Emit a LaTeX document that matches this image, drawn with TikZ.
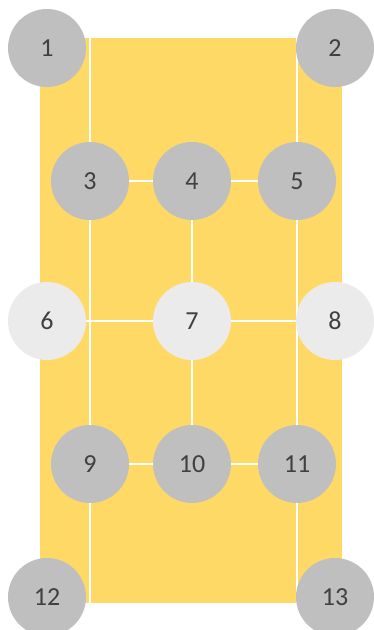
\documentclass[tikz,border=0pt]{standalone}
\usepackage{fontspec}
\setmainfont{Carlito}
\definecolor{court}{HTML}{FFD966}
\definecolor{spot}{HTML}{BFBFBF}
\definecolor{spotlight}{HTML}{EBEBEB}
\definecolor{digit}{HTML}{404040}
\pgfdeclarelayer{floor}
\pgfdeclarelayer{lines}
\pgfsetlayers{floor,lines,main}
\begin{document}
\begin{tikzpicture}[x=1pt, y=-1pt,
  every node/.style={font=\fontsize{26}{30}\selectfont, text=digit},
  spotnode/.style={circle, fill=spot, minimum size=78pt, inner sep=0pt},
  palenode/.style={spotnode, fill=spotlight},
  courtline/.style={white, line width=2.8pt}]
  \useasboundingbox (0,0) rectangle (373,630);

  \coordinate (tl) at (90,38);
  \coordinate (tr) at (297,38);
  \coordinate (bl) at (90,603);
  \coordinate (br) at (297,603);

  \node[spotnode] (n1) at (47,48) {1};
  \node[spotnode] (n2) at (335,48) {2};
  \node[spotnode] (n3) at (90,181) {3};
  \node[spotnode] (n4) at (192,181) {4};
  \node[spotnode] (n5) at (297,181) {5};
  \node[palenode] (n6) at (47,321) {6};
  \node[palenode] (n7) at (192,321) {7};
  \node[palenode] (n8) at (335,321) {8};
  \node[spotnode] (n9) at (90,464) {9};
  \node[spotnode] (n10) at (192,464) {10};
  \node[spotnode] (n11) at (297,464) {11};
  \node[spotnode] (n12) at (47,597) {12};
  \node[spotnode] (n13) at (335,597) {13};

  \begin{pgfonlayer}{floor}
    \fill[court] (40,38) rectangle (342,603);
  \end{pgfonlayer}

  \begin{pgfonlayer}{lines}
    \draw[courtline] (tl) -- (n3);
    \draw[courtline] (tr) -- (n5);
    \draw[courtline] (n3) -- (n4) -- (n5);
    \draw[courtline] (n3) -- (n9);
    \draw[courtline] (n5) -- (n11);
    \draw[courtline] (n6) -- (n7) -- (n8);
    \draw[courtline] (n4) -- (n7) -- (n10);
    \draw[courtline] (n9) -- (n10) -- (n11);
    \draw[courtline] (n9) -- (bl);
    \draw[courtline] (n11) -- (br);
  \end{pgfonlayer}
\end{tikzpicture}
\end{document}
